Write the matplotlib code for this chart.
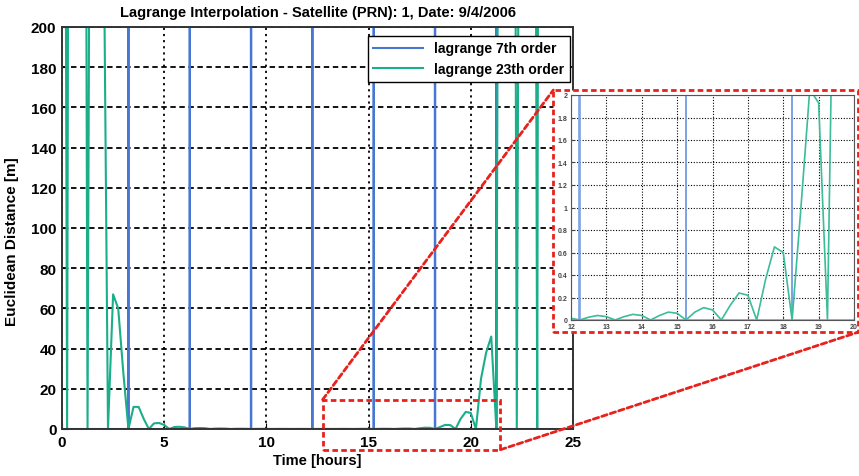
import matplotlib.pyplot as plt
import numpy as np
from matplotlib.patches import Rectangle, ConnectionPatch

plt.rcParams['font.family'] = ['Liberation Sans', 'DejaVu Sans']
plt.rcParams['font.weight'] = 'bold'

# lagrange 7th order error [m]: flat except narrow spikes at the node boundaries
hours_7th = [0.0,
             3.24, 3.25, 3.26,
             6.24, 6.25, 6.26,
             9.24, 9.25, 9.26,
             12.24, 12.25, 12.26,
             15.24, 15.25, 15.26,
             18.24, 18.25, 18.26,
             21.24, 21.25, 21.26,
             24.0]
err_7th = [0,
           0, 1e5, 0,
           0, 1e5, 0,
           0, 1e5, 0,
           0, 1e5, 0,
           0, 1e5, 0,
           0, 1e5, 0,
           0, 1e5, 0,
           0]

# lagrange 23th order error [m], quarter-hour samples
hours_23th = np.arange(0, 24.01, 0.25)
err_23th = [
    900, 0, 1200, 1500,
    900, 0, 700, 600,
    300, 0, 67, 60,
    28, 0, 11, 11,
    5, 0, 2.8, 3,
    2, 0, 1.0, 1.1,
    0.8, 0, 0.4, 0.5,
    0.4, 0, 0.2, 0.25,
    0.2, 0, 0.1, 0.12,
    0.1, 0, 0.05, 0.07,
    0.06, 0, 0.03, 0.04,
    0.035, 0, 0.02, 0.03,
    0.015, 0, 0.025, 0.04,
    0.03, 0, 0.03, 0.05,
    0.04, 0, 0.04, 0.07,
    0.06, 0, 0.07, 0.11,
    0.09, 0, 0.13, 0.24,
    0.22, 0, 0.36, 0.65,
    0.6, 0, 1.0, 2.05,
    1.93, 0, 5, 8.5,
    8, 0, 25, 38,
    46, 0, 800, 1500,
    900, 0, 700, 1200,
    900, 0, 1500, 2500,
    3000,
]

zoom_x = (12.75, 21.45)
zoom_y = (-10.3, 14.6)

c_blue = '#4677d2'
c_green = '#1aae8a'
c_red = '#e8211d'

fig = plt.figure(figsize=(8.59, 4.77), dpi=100)
ax = fig.add_axes([62/859, 1-430/477, 511/859, 402/477])

ax.plot(hours_7th, err_7th, color=c_blue, lw=1.5, label='lagrange 7th order')
ax.plot(hours_23th, err_23th, color=c_green, lw=1.5, label='lagrange 23th order')

ax.set_xlim(0, 25)
ax.set_ylim(0, 200)
ax.set_xticks(np.arange(0, 26, 5))
ax.set_yticks(np.arange(0, 201, 20))
ax.tick_params(direction='in', length=4, labelsize=11, pad=4)
ax.xaxis.grid(True, color='black', linestyle=(0, (1.2, 2.2)), lw=1.3)
ax.yaxis.grid(True, color='black', linestyle=(0, (3, 2)), lw=1.3)
for s in ax.spines.values():
    s.set_color('#333333')
    s.set_linewidth(1.4)

ax.set_title('Lagrange Interpolation - Satellite (PRN): 1, Date: 9/4/2006',
             fontsize=10.5, fontweight='bold', pad=8)
ax.set_xlabel('Time [hours]', fontsize=10.5, fontweight='bold', labelpad=3)
ax.set_ylabel('Euclidean Distance [m]', fontsize=11, fontweight='bold')
ax.yaxis.set_label_coords(-0.085, 0.468)

leg = ax.legend(loc='upper right', bbox_to_anchor=(0.994, 0.978), borderaxespad=0,
                handlelength=3.6, fancybox=False, framealpha=1,
                prop={'weight': 'bold', 'size': 10})
leg.get_frame().set_edgecolor('black')
leg.get_frame().set_linewidth(1.0)

# zoom box on the main axes
ax.add_patch(Rectangle((zoom_x[0], zoom_y[0]), zoom_x[1]-zoom_x[0], zoom_y[1]-zoom_y[0],
                       fill=False, edgecolor=c_red, lw=2, linestyle=(0, (2, 1.2)),
                       clip_on=False, zorder=5))

# inset
axi = fig.add_axes([571/859, 1-321/477, 283/859, 225/477])
axi.add_patch(Rectangle((-0.0625, -0.055), 1.075, 1.077, transform=axi.transAxes,
                        facecolor='white', edgecolor=c_red, lw=2,
                        linestyle=(0, (2, 1.2)), clip_on=False, zorder=0))
axi.plot(hours_7th, err_7th, color='#7fa3e6', lw=1.2)
axi.plot(hours_23th, err_23th, color='#3cbc98', lw=1.2)
axi.set_xlim(12, 20)
axi.set_ylim(0, 2)
axi.set_xticks(np.arange(12, 21, 1))
axi.set_yticks(np.arange(0, 2.01, 0.2))
axi.set_yticklabels(['0', '0.2', '0.4', '0.6', '0.8', '1', '1.2', '1.4', '1.6', '1.8', '2'])
axi.tick_params(direction='in', length=2, labelsize=5, colors='#444444')
axi.tick_params(axis='x', pad=2.5)
axi.tick_params(axis='y', pad=2.5)
axi.grid(True, color='black', linestyle=(0, (1, 1.5)), lw=0.8)
axi.set_axisbelow(True)
for s in axi.spines.values():
    s.set_color('#555555')
    s.set_linewidth(0.8)

for xy_main, xy_inset in [((zoom_x[0], zoom_y[1]), (-0.0625, 1.022)),
                          ((zoom_x[1], zoom_y[0]), (1.0125, -0.055))]:
    con = ConnectionPatch(xyA=xy_main, coordsA=ax.transData,
                          xyB=xy_inset, coordsB=axi.transAxes,
                          color=c_red, lw=2, linestyle=(0, (2, 1.2)))
    fig.add_artist(con)

fig.savefig('out.png', dpi=100)
